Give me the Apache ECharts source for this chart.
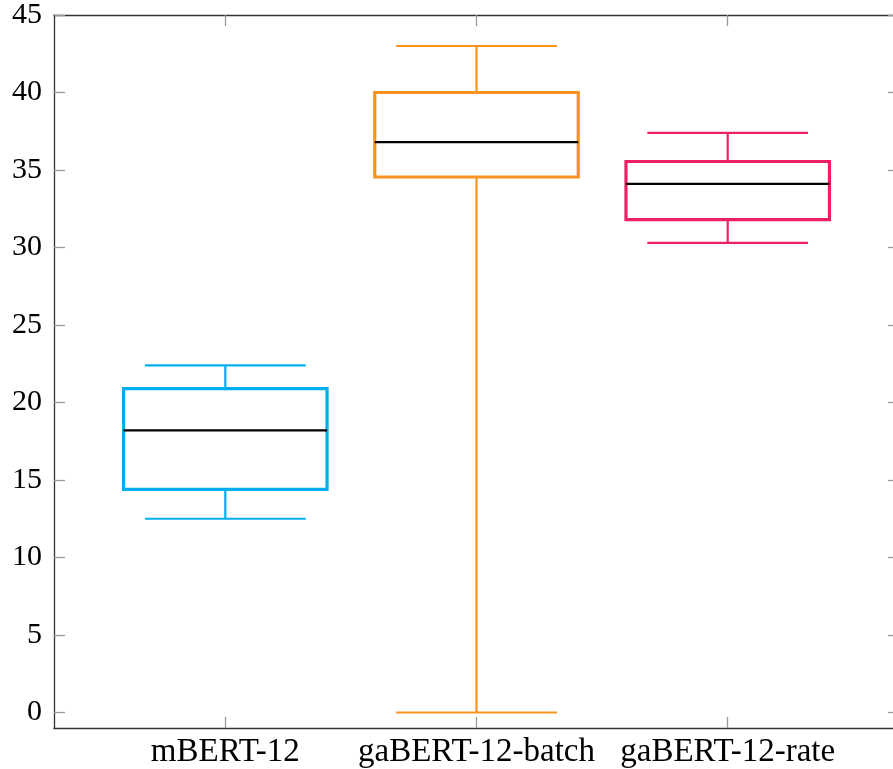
<!DOCTYPE html>
<html>
<head>
<meta charset="utf-8">
<script src="https://cdn.jsdelivr.net/npm/echarts@6/dist/echarts.min.js"></script>
<style>html,body{margin:0;padding:0;background:#fff}#chart{width:893px;height:769px}</style>
</head>
<body>
<div id="chart"></div>
<script>
const categories = ['mBERT-12', 'gaBERT-12-batch', 'gaBERT-12-rate'];
const lowerWhisker = [12.5, 0.0, 30.3];
const q1 = [14.4, 34.55, 31.8];
const median = [18.2, 36.8, 34.1];
const q3 = [20.9, 40.0, 35.55];
const upperWhisker = [22.4, 43.0, 37.4];
const yTicks = [0, 5, 10, 15, 20, 25, 30, 35, 40, 45];

const colors = ['#00aeef', '#f7931e', '#ec1f67'];
const FONT = 'Liberation Serif';

const data = categories.map((c, i) => [i + 1, lowerWhisker[i], q1[i], median[i], q3[i], upperWhisker[i], i]);

function renderItem(params, api) {
  const x = api.value(0);
  const idx = api.value(6);
  const col = colors[idx];
  const boxW = api.size([0.81, 0])[0];
  const capW = api.size([0.64, 0])[0];
  const pMin = api.coord([x, api.value(1)]);
  const pQ1 = api.coord([x, api.value(2)]);
  const pMed = api.coord([x, api.value(3)]);
  const pQ3 = api.coord([x, api.value(4)]);
  const pMax = api.coord([x, api.value(5)]);
  const cx = pMin[0];
  const line = (x1, y1, x2, y2, stroke, w) => ({
    type: 'line', shape: {x1, y1, x2, y2}, style: {stroke, lineWidth: w}
  });
  return {
    type: 'group',
    children: [
      line(cx, pQ3[1], cx, pMax[1], col, 2.2),
      line(cx, pQ1[1], cx, pMin[1], col, 2.2),
      line(cx - capW / 2, pMax[1], cx + capW / 2, pMax[1], col, 2.2),
      line(cx - capW / 2, pMin[1], cx + capW / 2, pMin[1], col, 2.2),
      {type: 'rect', shape: {x: cx - boxW / 2, y: pQ3[1], width: boxW, height: pQ1[1] - pQ3[1]},
       style: {fill: 'none', stroke: col, lineWidth: 3.2}},
      line(cx - boxW / 2, pMed[1], cx + boxW / 2, pMed[1], '#000', 2.2)
    ]
  };
}

const chart = echarts.init(document.getElementById('chart'), null, {renderer: 'canvas'});
const axisLineStyle = {color: '#333', width: 1.3};
const tickStyle = {color: '#999', width: 1.3};
const X_MIN = 0.318, X_MAX = 3.658;
chart.setOption({
  animation: false,
  backgroundColor: '#fff',
  grid: {left: 54, right: 0, top: 15, bottom: 41, containLabel: false},
  xAxis: [
    {
      type: 'value', min: X_MIN, max: X_MAX, position: 'bottom',
      axisLine: {show: true, onZero: false, lineStyle: axisLineStyle},
      axisTick: {show: true, inside: true, length: 11, lineStyle: tickStyle, customValues: [1, 2, 3]},
      axisLabel: {show: true, customValues: [1, 2, 3], margin: 8,
        formatter: v => categories[Math.round(v) - 1],
        fontFamily: FONT, fontSize: 33, color: '#000'},
      splitLine: {show: false}
    },
    {
      type: 'value', min: X_MIN, max: X_MAX, position: 'top',
      axisLine: {show: true, onZero: false, lineStyle: axisLineStyle},
      axisTick: {show: true, inside: true, length: 11, lineStyle: tickStyle, customValues: [1, 2, 3]},
      axisLabel: {show: false},
      splitLine: {show: false}
    }
  ],
  yAxis: [
    {
      type: 'value', min: -1, max: 45, position: 'left',
      axisLine: {show: true, onZero: false, lineStyle: axisLineStyle},
      axisTick: {show: true, inside: true, length: 11, lineStyle: tickStyle, customValues: yTicks},
      axisLabel: {show: true, customValues: yTicks, margin: 12,
        fontFamily: FONT, fontSize: 30, color: '#000'},
      splitLine: {show: false}
    },
    {
      type: 'value', min: -1, max: 45, position: 'right', offset: 6,
      axisLine: {show: true, onZero: false, lineStyle: axisLineStyle},
      axisTick: {show: true, inside: true, length: 11, lineStyle: tickStyle, customValues: yTicks},
      axisLabel: {show: false},
      splitLine: {show: false}
    }
  ],
  series: [{
    type: 'custom',
    renderItem: renderItem,
    encode: {x: 0, y: [1, 2, 3, 4, 5]},
    data: data,
    clip: false
  }]
});
</script>
</body>
</html>
